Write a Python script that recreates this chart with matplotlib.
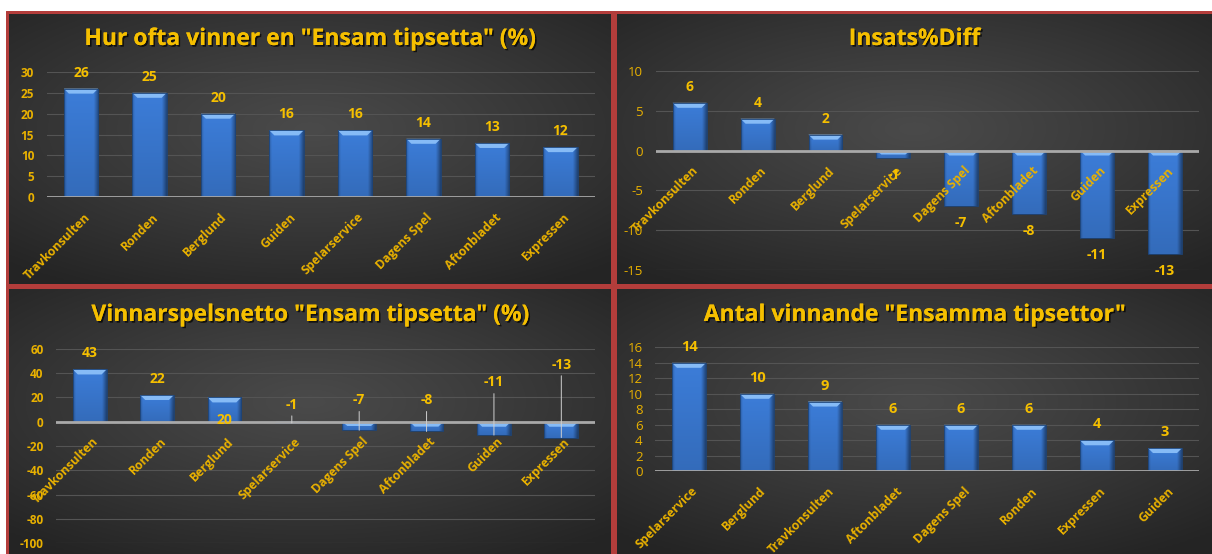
import numpy as np
import matplotlib
matplotlib.use("Agg")
import matplotlib.pyplot as plt
from matplotlib.patches import Polygon, Rectangle
import matplotlib.patheffects as pe

# ---------------- data ----------------
win_title = 'Hur ofta vinner en "Ensam tipsetta" (%)'
win_cats = ["Travkonsulten", "Ronden", "Berglund", "Guiden", "Spelarservice",
            "Dagens Spel", "Aftonbladet", "Expressen"]
win_vals = [26, 25, 20, 16, 16, 14, 13, 12]
win_ticks = [0, 5, 10, 15, 20, 25, 30]

diff_title = "Insats%Diff"
diff_cats = ["Travkonsulten", "Ronden", "Berglund", "Spelarservice",
             "Dagens Spel", "Aftonbladet", "Guiden", "Expressen"]
diff_vals = [6, 4, 2, -1, -7, -8, -11, -13]
diff_ticks = [-15, -10, -5, 0, 5, 10]

net_title = 'Vinnarspelsnetto "Ensam tipsetta" (%)'
net_cats = ["Travkonsulten", "Ronden", "Berglund", "Spelarservice",
            "Dagens Spel", "Aftonbladet", "Guiden", "Expressen"]
net_vals = [43, 22, 20, -1, -7, -8, -11, -13]
net_ticks = [-100, -80, -60, -40, -20, 0, 20, 40, 60]
# label placement (data units) used in the original for some labels
net_label_y = [None, None, 1.6, 14, 17.6, 17.6, 32.3, 47]

cnt_title = 'Antal vinnande "Ensamma tipsettor"'
cnt_cats = ["Spelarservice", "Berglund", "Travkonsulten", "Aftonbladet",
            "Dagens Spel", "Ronden", "Expressen", "Guiden"]
cnt_vals = [14, 10, 9, 6, 6, 6, 4, 3]
cnt_ticks = [0, 2, 4, 6, 8, 10, 12, 14, 16]

# ---------------- style ----------------
W, H = 1212, 554
GOLD = "#f5bf00"
GOLD2 = "#e9b100"
FONT = "Open Sans"
plt.rcParams["font.family"] = [FONT, "DejaVu Sans"]

fig = plt.figure(figsize=(W / 100, H / 100), dpi=100, facecolor="white")


def rect(x0, y0, x1, y1):
    """pixel box (top-left origin) -> figure fraction rect"""
    return [x0 / W, 1 - y1 / H, (x1 - x0) / W, (y1 - y0) / H]


# red frame behind everything
frame = fig.add_axes(rect(6, 11, W, H))
frame.set_axis_off()
frame.add_patch(Rectangle((0, 0), 1, 1, transform=frame.transAxes,
                          color="#b33d3b"))

# radial background image
ny, nx = 120, 240
yy, xx = np.mgrid[-1:1:ny * 1j, -1:1:nx * 1j]
r = np.sqrt(xx ** 2 * 0.85 + (yy + 0.15) ** 2 * 1.0)
t = np.clip(r / 1.35, 0, 1) ** 1.1
c_in = np.array([0.29, 0.29, 0.29])
c_out = np.array([0.145, 0.145, 0.145])
BG = c_in[None, None, :] * (1 - t[..., None]) + c_out[None, None, :] * t[..., None]

panels = {
    "TL": (9, 14, 611, 284),
    "TR": (617, 14, W, 284),
    "BL": (9, 289, 611, H),
    "BR": (617, 289, W, H),
}
for k, (x0, y0, x1, y1) in panels.items():
    bax = fig.add_axes(rect(x0, y0, x1, y1))
    bax.set_axis_off()
    bax.imshow(BG, aspect="auto", extent=[0, 1, 0, 1], interpolation="bilinear")
    bax.set_xlim(0, 1)
    bax.set_ylim(0, 1)

# bar gradient image
hx = np.linspace(0, 1, 60)
hprof = np.ones_like(hx)
hprof = np.where(hx < 0.08, 0.78 + 0.22 * hx / 0.08, hprof)
hprof = np.where(hx > 0.86, 1.0 - 0.42 * (hx - 0.86) / 0.14, hprof)
vy = np.linspace(0, 1, 60)
vprof = 1.0 - 0.14 * vy
base = np.array([0.235, 0.49, 0.85])
BAR_IMG = np.clip(base[None, None, :] * hprof[None, :, None] * vprof[:, None, None], 0, 1)


def draw_chart(box, cats, vals, ticks, bold_ticks, tick_size):
    x0, y0, x1, y1 = box
    ax = fig.add_axes(rect(x0, y0, x1, y1))
    ax.patch.set_alpha(0)
    n = len(vals)
    xs = np.arange(n)
    ymin, ymax = ticks[0], ticks[-1]
    px_per_y = (y1 - y0) / (ymax - ymin)
    px_per_x = (x1 - x0) / n

    bars = ax.bar(xs, vals, width=0.5, color="#3d7dd9", linewidth=0, zorder=3)
    for b in bars:
        bx, bw = b.get_x(), b.get_width()
        ylo = min(b.get_y(), b.get_y() + b.get_height())
        yhi = max(b.get_y(), b.get_y() + b.get_height())
        im = ax.imshow(BAR_IMG, extent=[bx, bx + bw, ylo, yhi], aspect="auto",
                       zorder=3.1, interpolation="bilinear")
        im.set_clip_path(b)
        ax.add_patch(Rectangle((bx, ylo), bw, yhi - ylo, fill=False,
                               edgecolor="#1d4478", lw=0.6, zorder=3.3))
        bh = min(5 / px_per_y, (yhi - ylo) * 0.5)
        bwd = 5 / px_per_x
        ax.add_patch(Polygon([(bx, yhi), (bx + bw, yhi), (bx + bw - bwd, yhi - bh),
                              (bx + bwd, yhi - bh)], closed=True,
                             facecolor="#86bbf6", edgecolor="none", zorder=3.2))
    ax.set_xlim(-0.5, n - 0.5)
    ax.set_ylim(ymin, ymax)

    ax.set_yticks(ticks)
    ax.set_yticklabels([str(v) for v in ticks])
    ax.tick_params(axis="y", length=0, pad=9, labelcolor=GOLD2,
                   labelsize=tick_size)
    for tl in ax.get_yticklabels():
        tl.set_fontweight("bold" if bold_ticks else "normal")
    ax.set_xticks([])
    for s in ax.spines.values():
        s.set_visible(False)
    for v in ticks:
        if v != 0:
            ax.axhline(v, color="#545454", lw=0.8, zorder=1)
    ax.axhline(0, color="#a9a9a9", lw=2.0, zorder=5)

    # category labels at the zero line
    for i, c in enumerate(cats):
        ax.annotate(c, xy=(i, 0), xytext=(5, -13), textcoords="offset points",
                    rotation=45, ha="right", va="center", rotation_mode="anchor",
                    color=GOLD2, fontsize=8.8, fontweight="bold", zorder=6)
    return ax


def data_labels(ax, vals, size=10):
    for i, v in enumerate(vals):
        off = 11.5 if v >= 0 else -12
        ax.annotate(str(v), xy=(i, v), xytext=(0, off), textcoords="offset points",
                    ha="center", va="center", color=GOLD, fontsize=size,
                    fontweight="bold", zorder=7)


def title(txt, panel, base_y):
    x0, y0, x1, y1 = panels[panel]
    fig.text(((x0 + x1) / 2) / W, 1 - base_y / H, txt, ha="center",
             va="baseline", color=GOLD, fontsize=16.5, fontweight="bold",
             path_effects=[pe.withSimplePatchShadow(offset=(1.2, -1.2),
                                                    shadow_rgbFace="black",
                                                    alpha=0.7), pe.Normal()])


# top-left
ax1 = draw_chart((46.75, 71.9, 594.75, 197.3), win_cats, win_vals,
                 win_ticks, True, 8.5)
data_labels(ax1, win_vals)
title(win_title, "TL", 45)

# top-right
ax2 = draw_chart((655.7, 71.0, 1199, 269.8), diff_cats, diff_vals,
                 diff_ticks, False, 9.5)
data_labels(ax2, diff_vals)
title(diff_title, "TR", 45)

# bottom-left
ax3 = draw_chart((56, 348.8, 595, 543.3), net_cats, net_vals,
                 net_ticks, True, 8.5)
for i, v in enumerate(net_vals):
    ly = net_label_y[i]
    if ly is None:
        ax3.annotate(str(v), xy=(i, v), xytext=(0, 11.5), textcoords="offset points",
                     ha="center", va="center", color=GOLD, fontsize=10,
                     fontweight="bold", zorder=7)
    elif v >= 0:
        ax3.text(i, ly, str(v), ha="center", va="center", color=GOLD, fontsize=10,
                 fontweight="bold", zorder=7)
    else:
        ax3.annotate(str(v), xy=(i, v), xytext=(i, ly), textcoords="data",
                     ha="center", va="center", color=GOLD, fontsize=10,
                     fontweight="bold", zorder=7,
                     arrowprops=dict(arrowstyle="-", color="#d0d0d0", lw=0.7,
                                     shrinkA=1, shrinkB=0))
title(net_title, "BL", 321)

# bottom-right
ax4 = draw_chart((655, 347.3, 1199, 471.3), cnt_cats, cnt_vals,
                 cnt_ticks, False, 9.5)
data_labels(ax4, cnt_vals, size=10.5)
title(cnt_title, "BR", 321)

fig.savefig("out.png", dpi=100, facecolor="white")
